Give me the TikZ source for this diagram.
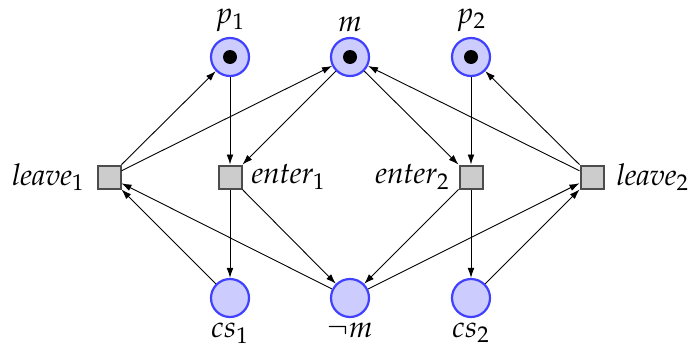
\documentclass[tikz,border=0pt]{standalone}
\usepackage{mathpazo}
\usetikzlibrary{arrows.meta}
\tikzset{
  place/.style={circle,draw=blue!75,fill=blue!20,line width=1.1pt,minimum size=38*0.5pt,inner sep=0pt},
  transition/.style={rectangle,draw=black!70,fill=black!20,line width=1pt,minimum size=23*0.5pt,inner sep=0pt},
  token/.style={circle,fill=black,minimum size=14*0.5pt,inner sep=0pt},
  arc/.style={-{Latex[length=5pt,width=3.4pt]},line width=0.45pt},
  lbl/.style={font=\fontsize{15}{18}\selectfont}
}
\begin{document}
\begin{tikzpicture}[x=0.5pt,y=-0.5pt]
\useasboundingbox (0,0) rectangle (690,354);
% places
\node[place] (p1) at (230,57) {};
\node[place] (m)  at (350,57) {};
\node[place] (p2) at (471,57) {};
\node[place] (cs1) at (230,298) {};
\node[place] (nm)  at (350,298) {};
\node[place] (cs2) at (471,298) {};
% tokens
\node[token] (t1) at (p1) {};
\node[token] (t2) at (m) {};
\node[token] (t3) at (p2) {};
% transitions
\node[transition] (l1) at (109,177) {};
\node[transition] (e1) at (230,177) {};
\node[transition] (e2) at (471,177) {};
\node[transition] (l2) at (592,177) {};
% labels
\node[lbl,above=-1pt] (lp1) at (p1.north) {$p_1$};
\node[lbl,above=-1pt] (lm)  at (m.north) {$m$};
\node[lbl,above=-1pt] (lp2) at (p2.north) {$p_2$};
\node[lbl,below=-1pt] (lcs1) at (cs1.south) {$cs_1$};
\node[lbl,below=-1pt] (lnm)  at (nm.south) {$\neg m$};
\node[lbl,below=-1pt] (lcs2) at (cs2.south) {$cs_2$};
\node[lbl,left=2.5pt]  (ll1) at (l1.west) {$\mathit{leave}_1$};
\node[lbl,right=1pt] (le1) at (e1.east) {$\mathit{enter}_1$};
\node[lbl,left=1pt]  (le2) at (e2.west) {$\mathit{enter}_2$};
\node[lbl,right=2.5pt] (ll2) at (l2.east) {$\mathit{leave}_2$};
% arcs, left half
\draw[arc] (p1) -- (e1);
\draw[arc] (m) -- (e1);
\draw[arc] (l1) -- (p1);
\draw[arc] (l1) -- (m);
\draw[arc] (e1) -- (cs1);
\draw[arc] (e1) -- (nm);
\draw[arc] (cs1) -- (l1);
\draw[arc] (nm) -- (l1);
% arcs, right half
\draw[arc] (p2) -- (e2);
\draw[arc] (m) -- (e2);
\draw[arc] (l2) -- (p2);
\draw[arc] (l2) -- (m);
\draw[arc] (e2) -- (cs2);
\draw[arc] (e2) -- (nm);
\draw[arc] (cs2) -- (l2);
\draw[arc] (nm) -- (l2);
\end{tikzpicture}
\end{document}
